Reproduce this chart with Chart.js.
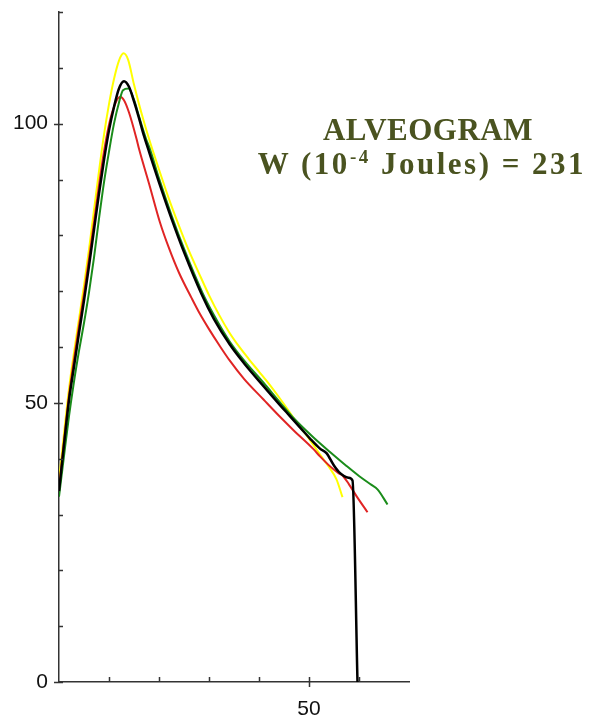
<!DOCTYPE html>
<html>
<head>
<meta charset="utf-8">
<title>Alveogram</title>
<script src="https://cdn.jsdelivr.net/npm/chart.js@4.4.1/dist/chart.umd.min.js"></script>
<style>
  html, body { margin: 0; padding: 0; background: #fff; }
  #wrap { position: relative; width: 603px; height: 717px; }
  #chart { position: absolute; left: 0; top: 0; }
  .title {
    position: absolute; width: 360px; text-align: center;
    font-family: 'Liberation Serif', 'Times New Roman', serif;
    font-weight: bold; font-size: 31px; line-height: 31px;
    color: #4a5320; white-space: nowrap;
  }
  .title sup { font-size: 19px; vertical-align: 11px; line-height: 0; }
  #t1 { left: 248px; top: 114px; letter-spacing: 0.5px; }
  #t2 { left: 242px; top: 148px; letter-spacing: 2.5px; }
</style>
</head>
<body>
<div id="wrap">
  <canvas id="chart" width="603" height="717"></canvas>
  <div class="title" id="t1">ALVEOGRAM</div>
  <div class="title" id="t2">W (10<sup>-4</sup> Joules) = 231</div>
</div>
<script>
'use strict';
/* ── Alveogram curves (x = extension, y = pressure) ── */

const X_LABELS = [50];
const Y_LABELS = [0, 50, 100];

const yellowX = [0, 1, 2, 3, 4, 5, 6, 7, 8, 9, 10, 11, 12, 12.9, 13.8, 15, 16, 17, 18, 19, 20, 22, 24, 26, 28, 30, 32, 34, 36, 38, 40, 42, 44, 46, 48, 50, 52, 54, 55.5, 56.7];
const yellowY = [36, 44.5, 52.5, 59, 65, 71, 77.5, 84.5, 91.5, 98, 103.5, 108, 111.3, 112.6, 111.5, 107, 103.5, 100.3, 97.3, 94.5, 91.8, 86.5, 81.7, 77.2, 73.2, 69.3, 65.8, 62.7, 60.1, 57.8, 55.6, 53.4, 51, 48.5, 45.9, 43.6, 41, 38.5, 36.3, 33.1];

const blackX = [0, 1, 2, 3, 4, 5, 6, 7, 8, 9, 10, 11, 12, 13, 14, 15, 16, 17, 18, 19, 20, 22.5, 25, 28.5, 31, 34.2, 37, 40.9, 44.2, 46, 48.5, 50.2, 52.2, 53.5, 54.9, 56, 57.9, 58.7, 59.7];
const blackY = [34.2, 42.5, 50.5, 56.5, 62.5, 68.3, 74.5, 81, 87.5, 93.5, 98.8, 103, 106.3, 107.6, 106.6, 104, 101, 97.8, 95, 92.2, 89.5, 83, 77, 69.5, 65, 60.4, 57.1, 53, 49.6, 47.8, 45.3, 43.6, 41.8, 41, 38.9, 37.6, 36.6, 36.1, 0];

const redX = [0, 1, 2, 3, 4, 5, 6, 7, 8, 9, 10, 11, 12.2, 13, 14, 15.5, 16, 18, 20.2, 22, 24, 26.5, 28.2, 30, 32, 34.2, 37, 40.9, 44.2, 46.9, 50.9, 52.2, 54, 55.9, 56.7, 58, 59.5, 61.7];
const redY = [34.5, 43.2, 51.3, 57.8, 63.8, 69.5, 75.8, 82.3, 89, 95, 99.8, 103, 104.8, 104.2, 102, 97.3, 95.5, 89.3, 82.3, 77.7, 73.3, 68.8, 65.9, 63.2, 60.4, 57.5, 54.3, 50.6, 47.5, 45.1, 41.7, 40.4, 38.8, 37.4, 37, 35.4, 33.3, 30.4];

const greenX = [0, 1, 2, 3, 4, 5, 6, 7, 8, 9, 10, 11, 12, 12.8, 13.9, 15, 16, 17.4, 18.2, 20, 22.5, 25, 28.7, 31, 34.2, 37, 40.9, 44.2, 47, 50.9, 54.2, 57.5, 60, 62.5, 63.7, 65.7];
const greenY = [33.2, 40.5, 47.6, 53.8, 59.3, 64.3, 69.8, 76, 83, 89.5, 95, 100, 103.8, 106, 106.3, 104.3, 101.3, 97.3, 95.4, 90.2, 83.6, 77.6, 69.7, 65.7, 60.9, 57.6, 53.6, 50.1, 47.2, 43.8, 41.2, 38.7, 36.9, 35.3, 34.5, 31.8];

const AXIS_COLOR = '#333';
const TICK_FONT = { family: "'Liberation Sans', Arial, sans-serif", size: 21 };

const zip = (xs, ys) => xs.map((x, i) => ({ x, y: ys[i] }));

function series(label, xs, ys, color, width) {
  return {
    label, data: zip(xs, ys),
    borderColor: color, borderWidth: width,
    pointRadius: 0, fill: false,
    cubicInterpolationMode: 'monotone',
  };
}

// small ticks: all point inward, labelled ones also cross the axis
const axisTicks = {
  id: 'axisTicks',
  afterDraw(chart) {
    const { ctx, chartArea: a, scales: { x, y } } = chart;
    ctx.save();
    ctx.strokeStyle = AXIS_COLOR;
    ctx.lineWidth = 1.5;
    ctx.beginPath();
    x.ticks.forEach(t => {
      if (t.value <= 0 || t.value >= x.max) return;
      const px = Math.round(x.getPixelForValue(t.value)) + 0.5;
      ctx.moveTo(px, a.bottom - 5);
      ctx.lineTo(px, X_LABELS.includes(t.value) ? a.bottom + 5 : a.bottom);
    });
    y.ticks.forEach(t => {
      const py = Math.round(y.getPixelForValue(t.value)) + 0.5;
      ctx.moveTo(Y_LABELS.includes(t.value) ? a.left - 5 : a.left, py);
      ctx.lineTo(a.left + 4, py);
    });
    ctx.stroke();
    ctx.restore();
  },
};

new Chart(document.getElementById('chart'), {
  type: 'line',
  data: {
    datasets: [
      series('black',  blackX,  blackY,  '#000000', 2.5),
      series('green',  greenX,  greenY,  '#1a8c1a', 2),
      series('red',    redX,    redY,    '#e02424', 2),
      series('yellow', yellowX, yellowY, '#ffff00', 2),
    ],
  },
  options: {
    responsive: false, animation: false,
    layout: { padding: { top: 12, right: 194, left: 0, bottom: 0 } },
    plugins: { legend: { display: false }, tooltip: { enabled: false } },
    scales: {
      x: {
        type: 'linear', min: 0, max: 70,
        grid: { display: false, drawTicks: false },
        border: { display: true, color: AXIS_COLOR, width: 1.5 },
        ticks: {
          stepSize: 10, padding: 15, color: '#111', font: TICK_FONT,
          maxRotation: 0, autoSkip: false,
          callback: v => X_LABELS.includes(v) ? String(v) : '',
        },
        afterFit: s => { s.height = 35; s.paddingLeft = 0; s.paddingRight = 0; },
      },
      y: {
        type: 'linear', min: 0, max: 120,
        grid: { display: false, drawTicks: false },
        border: { display: true, color: AXIS_COLOR, width: 1.5 },
        ticks: {
          stepSize: 10, padding: 11, color: '#111', font: TICK_FONT,
          autoSkip: false,
          callback: v => Y_LABELS.includes(v) ? String(v) : '',
        },
        afterFit: s => { s.width = 59; s.paddingTop = 0; s.paddingBottom = 0; },
      },
    },
  },
  plugins: [axisTicks],
});
</script>
</body>
</html>
